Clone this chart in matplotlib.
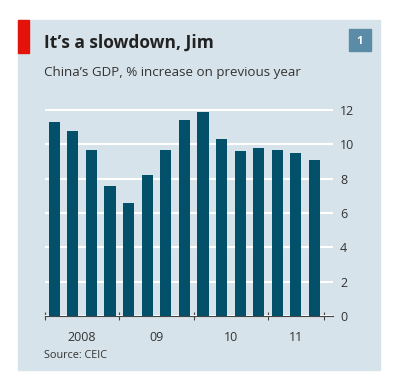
import matplotlib.pyplot as plt
from matplotlib.patches import Rectangle

# quarterly GDP growth, Q1 2008 - Q3 2011
gdp_growth = [11.3, 10.8, 9.7, 7.6, 6.6, 8.2, 9.7, 11.4, 11.9, 10.3, 9.6, 9.8, 9.7, 9.5, 9.1]
year_labels = ['2008', '09', '10', '11']
year_label_pos = [1.5, 5.5, 9.5, 13.0]
year_ticks = [-0.5, 3.5, 7.5, 11.5, 14.5]
y_ticks = [0, 2, 4, 6, 8, 10, 12]

bg = '#d7e3ea'
bar_color = '#03506b'
text_color = '#222222'
font = ['Open Sans', 'DejaVu Sans']

W, H = 395, 384
fig = plt.figure(figsize=(W / 100, H / 100), dpi=100)
fig.patch.set_facecolor('white')

def fx(px):
    return px / W

def fy(py):
    return 1 - py / H

# panel background, red flag and number box
fig.patches.append(Rectangle((fx(18), fy(370)), fx(380) - fx(18), fy(20) - fy(370),
                             transform=fig.transFigure, color=bg, zorder=0))
fig.patches.append(Rectangle((fx(18), fy(53)), fx(11), fy(20) - fy(53),
                             transform=fig.transFigure, color='#e3120b', zorder=1))
fig.patches.append(Rectangle((fx(349), fy(51)), fx(22), fy(29) - fy(51),
                             transform=fig.transFigure, color='#5b8ca7', zorder=1))
fig.text(fx(360), fy(40.5), '1', color='white', fontsize=8, fontweight='bold',
         ha='center', va='center_baseline', family=font)

fig.text(fx(44), fy(48), 'It\u2019s a slowdown, Jim', fontsize=12.5, fontweight='bold',
         color=text_color, va='baseline', family=font)
fig.text(fx(44), fy(76), 'China\u2019s GDP, % increase on previous year', fontsize=9.6,
         color='#333333', va='baseline', family=font)
fig.text(fx(44), fy(358), 'Source: CEIC', fontsize=7.8, color='#333333',
         va='baseline', family=font)

ax = fig.add_axes([fx(45), fy(316), fx(333) - fx(45), fy(105) - fy(316)])
ax.set_zorder(3)
ax.set_facecolor('none')
x = list(range(len(gdp_growth)))
ax.bar(x, gdp_growth, width=0.6, color=bar_color, zorder=3)

ax.set_xlim(-0.5, 15)
ax.set_ylim(0, 12.3)
for s in ['top', 'left', 'right']:
    ax.spines[s].set_visible(False)
ax.spines['bottom'].set_color('#444444')
ax.spines['bottom'].set_linewidth(0.8)
ax.spines['bottom'].set_zorder(4)

ax.set_yticks(y_ticks)
ax.yaxis.tick_right()
ax.tick_params(axis='y', length=0, pad=5, labelsize=9, labelcolor='#333333')
for lbl in ax.get_yticklabels():
    lbl.set_family(font)
ax.grid(axis='y', color='white', linewidth=1.5, zorder=1)

ax.set_xticks(year_ticks)
ax.set_xticklabels([])
ax.tick_params(axis='x', direction='inout', length=6, width=0.8, color='#444444')
for pos, lbl in zip(year_label_pos, year_labels):
    ax.text(pos, -0.9, lbl, ha='center', va='top', fontsize=9, color='#333333',
            family=font)

fig.savefig('out.png', dpi=100, facecolor='white')
